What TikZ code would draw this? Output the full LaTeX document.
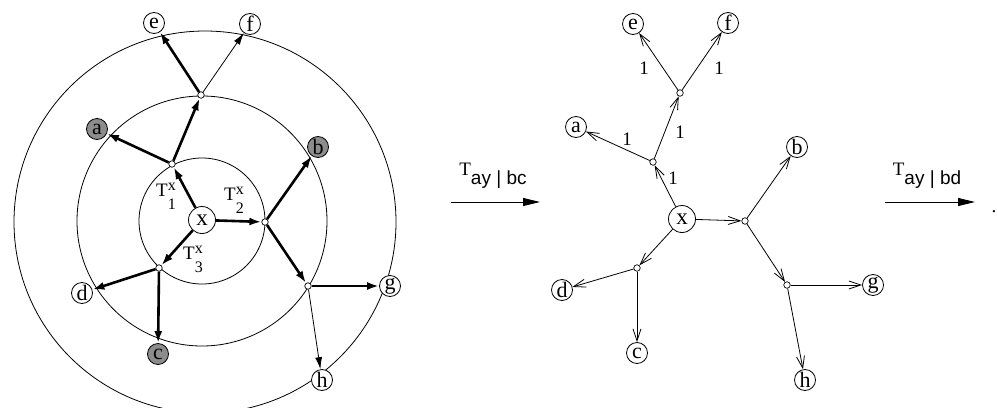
\documentclass[tikz,border=0pt]{standalone}
\usepackage{fontspec}
\setmainfont{Liberation Serif}
\setsansfont{Liberation Sans}
\usetikzlibrary{arrows.meta}

\newcommand{\tpart}[1]{T\rlap{\raisebox{6pt}{\fontsize{16}{16}\selectfont x}}\raisebox{-13pt}{\fontsize{16}{16}\selectfont #1}}

\begin{document}
\begin{tikzpicture}[
  x=1pt, y=-1pt,
  font=\fontsize{19}{19}\selectfont,
  leaf/.style={draw, circle, line width=0.8pt, inner sep=0pt, minimum size=21pt, fill=white, font=\fontsize{22}{22}\selectfont},
  shaded/.style={leaf, fill=black!45},
  root/.style={draw, circle, line width=0.8pt, inner sep=0pt, minimum size=27pt, fill=white, font=\fontsize{23}{23}\selectfont},
  junc/.style={draw, circle, line width=0.7pt, inner sep=0pt, minimum size=6.5pt, fill=white},
  ring/.style={line width=0.8pt},
  heavy/.style={-{Latex[length=12pt,width=8pt]}, line width=2.6pt},
  light/.style={-{Latex[length=12pt,width=7pt]}, line width=0.8pt},
  plain/.style={-{Straight Barb[length=12pt,width=8pt]}, line width=0.8pt},
  trans/.style={-{Triangle[length=17pt,width=8pt]}, line width=0.9pt},
  part/.style={inner sep=0pt}
]
\useasboundingbox (0,0) rectangle (998,407);

% left: rings round x
\draw[ring] (202,221) circle[radius=63];
\draw[ring] (202,221) circle[radius=125];
\draw[ring] (205,222) circle[radius=191];

\node[root] (lx) at (202,220) {x};
\node[junc] (lj1) at (172,164) {};
\node[junc] (ljt) at (201,95) {};
\node[junc] (lj2) at (265,222) {};
\node[junc] (lj3) at (159,268) {};
\node[junc] (lj4) at (308,286) {};
\node[leaf] (le) at (154,23) {e};
\node[leaf] (lf) at (250,24) {f};
\node[shaded] (la) at (97,129) {a};
\node[shaded] (lb) at (318,147) {b};
\node[leaf] (ld) at (82,293) {d};
\node[shaded] (lc) at (158,354) {c};
\node[leaf] (lg) at (390,286) {g};
\node[leaf] (lh) at (322,380) {h};

\node[part] (t1) at (166,196) {\tpart{1}};
\node[part] (t2) at (234,200) {\tpart{2}};
\node[part] (t3) at (193,259) {\tpart{3}};

\draw[heavy] (lx) -- (lj1);
\draw[heavy] (lj1) -- (la);
\draw[heavy] (lj1) -- (ljt);
\draw[heavy] (ljt) -- (le);
\draw[light] (ljt) -- (lf);
\draw[heavy] (lx) -- (lj2);
\draw[heavy] (lj2) -- (lb);
\draw[heavy] (lj2) -- (lj4);
\draw[heavy] (lj4) -- (lg);
\draw[light] (lj4) -- (lh);
\draw[heavy] (lx) -- (lj3);
\draw[heavy] (lj3) -- (ld);
\draw[heavy] (lj3) -- (lc);

% first step
\coordinate (s1) at (451,202);
\coordinate (e1) at (540,202);
\node (tbc) at (493,176) {T\raisebox{-9pt}{\sffamily ay | bc}};
\draw[trans] (s1) -- (e1);

% right: tree after the step
\node[root] (rx) at (682,219) {x};
\node[junc] (rj1) at (653,162) {};
\node[junc] (rjt) at (680,93) {};
\node[junc] (rj2) at (745,221) {};
\node[junc] (rj3) at (637,268) {};
\node[junc] (rj4) at (787,285) {};
\node[leaf] (re) at (633,24) {e};
\node[leaf] (rf) at (728,23) {f};
\node[leaf] (ra) at (576,127) {a};
\node[leaf] (rb) at (797,147) {b};
\node[leaf] (rd) at (562,290) {d};
\node[leaf] (rc) at (637,353) {c};
\node[leaf] (rg) at (873,285) {g};
\node[leaf] (rh) at (805,380) {h};

\node (w1) at (644,68) {1};
\node (w2) at (719,68) {1};
\node (w3) at (627,139) {1};
\node (w4) at (680,132) {1};
\node (w5) at (673,178) {1};

\draw[plain] (rx) -- (rj1);
\draw[plain] (rj1) -- (ra);
\draw[plain] (rj1) -- (rjt);
\draw[plain] (rjt) -- (re);
\draw[plain] (rjt) -- (rf);
\draw[plain] (rx) -- (rj2);
\draw[plain] (rj2) -- (rb);
\draw[plain] (rj2) -- (rj4);
\draw[plain] (rj4) -- (rg);
\draw[plain] (rj4) -- (rh);
\draw[plain] (rx) -- (rj3);
\draw[plain] (rj3) -- (rd);
\draw[plain] (rj3) -- (rc);

% second step
\coordinate (s2) at (885,202);
\coordinate (e2) at (975,202);
\node (tbd) at (927,176) {T\raisebox{-9pt}{\sffamily ay | bd}};
\draw[trans] (s2) -- (e2);
\node (stop) at (994,212) {.};
\end{tikzpicture}
\end{document}
